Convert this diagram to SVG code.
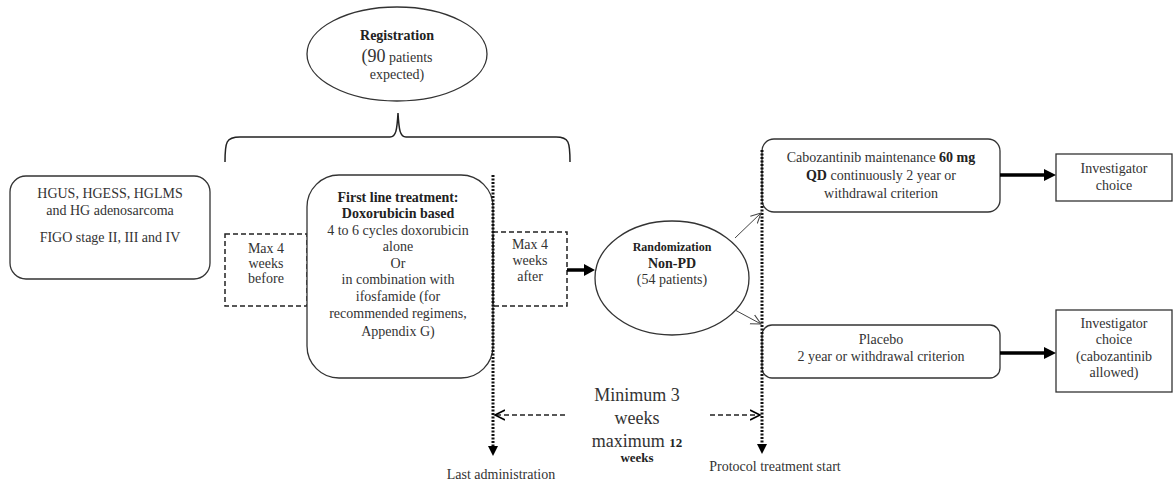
<svg xmlns="http://www.w3.org/2000/svg" width="1173" height="485" viewBox="0 0 1173 485">
<defs>
<style>
text{font-family:"Liberation Serif","Times New Roman",serif;font-size:14px;fill:#333;text-anchor:middle}
.b{font-weight:bold;fill:#222}
.big{font-size:18px}
.s13{font-size:13px}
.s12{font-size:12px}
.s18{font-size:18px}
.box{fill:#fff;stroke:#333;stroke-width:1.3}
.dash{fill:none;stroke:#222;stroke-width:1.5;stroke-dasharray:5,3}
.dot{fill:none;stroke:#111;stroke-width:3;stroke-dasharray:2,1.5}
.thick{stroke:#000;stroke-width:3.5;fill:none}
.thin{stroke:#444;stroke-width:1;fill:none}
</style>
<marker id="open" markerWidth="12" markerHeight="12" refX="10" refY="6" orient="auto" markerUnits="userSpaceOnUse"><path d="M0,1 L10,6 L0,11" fill="none" stroke="#444" stroke-width="1"/></marker>
<marker id="openb" markerWidth="12" markerHeight="12" refX="10" refY="6" orient="auto" markerUnits="userSpaceOnUse"><path d="M0,1 L10,6 L0,11" fill="none" stroke="#000" stroke-width="1.6"/></marker>
</defs>
<rect width="1173" height="485" fill="#fff"/>

<g id="registration">
<ellipse class="box" cx="397" cy="54" rx="90" ry="47"/>
<text class="b" x="397" y="40">Registration</text>
<text x="397" y="62"><tspan class="s18">(90</tspan> patients</text>
<text x="397" y="79">expected)</text>
</g>

<g id="brace">
<path d="M225,162 C225,142 226,137 240,137 L390,137 C396,137 397,130 398,113 C399,130 400,137 406,137 L556,137 C569,137 570,142 570,162" fill="none" stroke="#222" stroke-width="1.5"/>
</g>

<g id="eligibility">
<rect class="box" x="10" y="176" width="200" height="103" rx="16"/>
<text x="110" y="198">HGUS, HGESS, HGLMS</text>
<text x="110" y="215">and HG adenosarcoma</text>
<text x="110" y="242">FIGO stage II, III and IV</text>
</g>

<g id="before">
<rect class="dash" x="225" y="234" width="82" height="72"/>
<text x="266" y="253">Max 4</text>
<text x="266" y="268">weeks</text>
<text x="266" y="283">before</text>
</g>

<g id="treatment">
<rect class="box" x="307" y="175" width="186" height="203" rx="32"/>
<text class="b" x="398" y="202">First line treatment:</text>
<text class="b" x="398" y="218">Doxorubicin based</text>
<text x="398" y="235">4 to 6 cycles doxorubicin</text>
<text x="398" y="251">alone</text>
<text x="398" y="268">Or</text>
<text x="398" y="284">in combination with</text>
<text x="398" y="301">ifosfamide (for</text>
<text x="398" y="318">recommended regimens,</text>
<text x="398" y="336">Appendix G)</text>
</g>

<g id="after">
<rect class="dash" x="493" y="232" width="74" height="74"/>
<text x="530" y="249">Max 4</text>
<text x="530" y="265">weeks</text>
<text x="530" y="281">after</text>
</g>

<g id="randomization">
<ellipse class="box" cx="672" cy="278" rx="77" ry="57"/>
<text class="b s12" x="672" y="251">Randomization</text>
<text class="b" x="672" y="268">Non-PD</text>
<text x="672" y="284">(54 patients)</text>
</g>

<g id="cabozantinib">
<rect class="box" x="762" y="139" width="238" height="73" rx="12"/>
<text x="881" y="162">Cabozantinib maintenance <tspan class="b">60 mg</tspan></text>
<text x="881" y="180"><tspan class="b">QD</tspan> continuously 2 year or</text>
<text x="881" y="198">withdrawal criterion</text>
</g>

<g id="placebo">
<rect class="box" x="762" y="325" width="238" height="53" rx="10"/>
<text x="881" y="344">Placebo</text>
<text x="881" y="361">2 year or withdrawal criterion</text>
</g>

<g id="investigator1">
<rect class="box" x="1056" y="154" width="116" height="47"/>
<text x="1114" y="173">Investigator</text>
<text x="1114" y="190">choice</text>
</g>

<g id="investigator2">
<rect class="box" x="1056" y="310" width="116" height="82"/>
<text x="1114" y="328">Investigator</text>
<text x="1114" y="344">choice</text>
<text x="1114" y="361">(cabozantinib</text>
<text x="1114" y="377">allowed)</text>
</g>

<g id="connectors">
<line class="dot" x1="493" y1="175" x2="493" y2="447"/>
<path d="M488,446 L498,446 L493,456 z" fill="#000"/>
<line class="dot" x1="762" y1="150" x2="762" y2="445"/>
<path d="M757,444 L767,444 L762,454 z" fill="#000"/>
<line class="thick" x1="567" y1="270" x2="586" y2="270"/>
<path d="M584,264 L595,270 L584,276 z" fill="#000"/>
<line class="thin" x1="735" y1="238" x2="761" y2="213" marker-end="url(#open)"/>
<line class="thin" x1="735" y1="310" x2="761" y2="324" marker-end="url(#open)"/>
<line class="thick" x1="1000" y1="175" x2="1045" y2="175"/>
<path d="M1044,169 L1056,175 L1044,181 z" fill="#000"/>
<line class="thick" x1="1000" y1="353" x2="1045" y2="353"/>
<path d="M1044,347 L1056,353 L1044,359 z" fill="#000"/>
<line x1="565" y1="415" x2="495" y2="415" stroke="#222" stroke-width="1.5" stroke-dasharray="5,3" marker-end="url(#openb)"/>
<line x1="710" y1="415" x2="760" y2="415" stroke="#222" stroke-width="1.5" stroke-dasharray="5,3" marker-end="url(#openb)"/>
</g>

<g id="interval">
<text class="big" x="637" y="401">Minimum 3</text>
<text class="big" x="637" y="424">weeks</text>
<text class="big" x="637" y="447">maximum <tspan class="b s13">12</tspan></text>
<text class="b s13" x="637" y="462">weeks</text>
</g>

<g id="labels">
<text x="501" y="479">Last administration</text>
<text x="775" y="471">Protocol treatment start</text>
</g>
</svg>
